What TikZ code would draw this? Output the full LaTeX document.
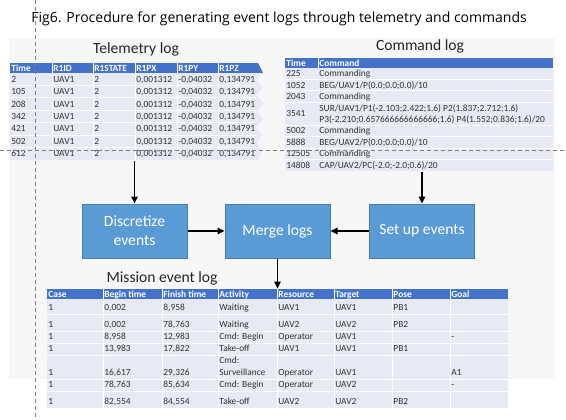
\documentclass[tikz,border=0pt]{standalone}
\usepackage{fontspec}
\setmainfont{Carlito}
\newfontfamily\capfont{Open Sans}
\usetikzlibrary{arrows.meta,positioning}
\definecolor{hdrblue}{RGB}{68,114,200}
\definecolor{rowblue}{RGB}{231,234,244}
\definecolor{boxfill}{RGB}{91,155,213}
\definecolor{boxedge}{RGB}{70,125,180}
\newcommand{\celltxt}{\fontsize{4.7}{5.8}\selectfont}
\tikzset{
panel/.style={fill=black!3},
hdrband/.style={fill=hdrblue},
rowband/.style={fill=rowblue},
sepline/.style={draw=white,line width=0.5pt},
cell/.style={anchor=base west,inner sep=0pt,font=\celltxt,text=black!80},
hcell/.style={cell,text=white,font=\celltxt\bfseries},
logtitle/.style={anchor=base,inner sep=0pt,font=\fontsize{7.8}{9}\selectfont,text=black!85},
procbox/.style={draw=boxedge,fill=boxfill,text=white,line width=0.5pt,minimum width=52.5pt,minimum height=27pt,align=center,font=\fontsize{7.8}{9.5}\selectfont},
flowarrow/.style={-{Triangle[length=3.5pt,width=3.2pt]},line width=0.8pt,black},
guide/.style={draw=black!50,line width=0.3pt,dash pattern=on 2pt off 1.5pt}
}
\newcommand{\misrow}[9]{%
\node[cell] (mis-#1-1) at (48,#2) {1};
\node[cell] (mis-#1-2) at (104,#2) {#3};
\node[cell] (mis-#1-3) at (163,#2) {#4};
\node[cell] (mis-#1-4) at (219,#2) {#5};
\node[cell] (mis-#1-5) at (278,#2) {#6};
\node[cell] (mis-#1-6) at (335,#2) {#7};
\node[cell] (mis-#1-7) at (393,#2) {#8};
\node[cell] (mis-#1-8) at (451,#2) {#9};
}
\begin{document}
\begin{tikzpicture}[x=0.5pt,y=-0.5pt]
\useasboundingbox (0,0) rectangle (566,419);
\fill[panel] (9,38) rectangle (555,379);
\node[anchor=base west,inner sep=0pt,font=\capfont\fontsize{7}{8}\selectfont] (figcap) at (31,22) {Fig6. Procedure for generating event logs through telemetry and commands};

\node[logtitle] (teltitle) at (136,53) {Telemetry log};
\fill[hdrband] (10,63) -- (258,63) -- (263,73) -- (10,73) -- cycle;
\fill[rowband] (10,73) -- (262,73) -- (257,80) -- (263,87) -- (256,95) -- (264,103) -- (257,111) -- (263,119) -- (256,127) -- (262,135) -- (257,143) -- (263,151) -- (258,160) -- (10,160) -- cycle;
\foreach \k in {1,...,6} \draw[sepline] (10,{73+12.43*\k}) -- (256,{73+12.43*\k});
\foreach \x in {52,93,135,177,218} \draw[sepline] (\x,63) -- (\x,160);
\foreach \x/\h [count=\c] in {11/Time,53/R1ID,94/R1STATE,136/R1PX,178/R1PY,219/R1PZ}
  \node[hcell] (tel-h\c) at (\x,71) {\h};
\foreach \t [count=\r] in {2,105,208,342,421,502,612}{
  \pgfmathsetmacro\yb{73+12.43*(\r-0.5)+3}
  \node[cell] (tel-\r-1) at (11,\yb) {\t};
  \node[cell] (tel-\r-2) at (53,\yb) {UAV1};
  \node[cell] (tel-\r-3) at (94,\yb) {2};
  \node[cell] (tel-\r-4) at (136,\yb) {0,001312};
  \node[cell] (tel-\r-5) at (178,\yb) {-0,04032};
  \node[cell] (tel-\r-6) at (219,\yb) {0,134791};
}
\coordinate (tel-out) at (134.5,161);

\node[logtitle] (cmdtitle) at (420,50) {Command log};
\fill[hdrband] (285,58) rectangle (553,68);
\fill[rowband] (285,68) rectangle (553,171);
\foreach \y in {79.4,90.9,102.3,125.2,136.6,148.1,159.5} \draw[sepline] (285,\y) -- (553,\y);
\draw[sepline] (318,58) -- (318,68);
\node[hcell] (cmd-h1) at (286,66) {Time};
\node[hcell] (cmd-h2) at (319,66) {Command};
\foreach \yb/\t/\c [count=\r] in {76.7/225/Commanding,88.2/1052/{BEG/UAV1/P(0.0;0.0;0.0)/10},99.6/2043/Commanding,133.9/5002/Commanding,145.4/5888/{BEG/UAV2/P(0.0;0.0;0.0)/10},156.8/12505/Commanding,168.3/14808/{CAP/UAV2/PC(-2.0;-2.0;0.6)/20}}{
  \node[cell] (cmd-\r-1) at (286,\yb) {\t};
  \node[cell] (cmd-\r-2) at (319,\yb) {\c};
}
\node[cell] (cmd-sur-1) at (286,116.7) {3541};
\node[cell] (cmd-sur-2) at (319,111) {SUR/UAV1/P1(-2.103;2.422;1.6) P2(1.837;2.712;1.6)};
\node[cell] (cmd-sur-3) at (319,122.5) {P3(-2.210;0.657666666666666;1.6) P4(1.552;0.836;1.6)/20};
\coordinate (cmd-out) at (422,172);

\node[procbox] (disc) at (134.5,231) {Discretize\\events};
\node[procbox] (merge) at (277.5,231) {Merge logs};
\node[procbox] (setup) at (422,231) {Set up events};
\draw[flowarrow] (tel-out) -- (disc.north);
\draw[flowarrow] (cmd-out) -- (setup.north);
\draw[flowarrow] (disc.east) -- (merge.west);
\draw[flowarrow] (setup.west) -- (merge.east);
\coordinate (mis-in) at (277.5,288.5);
\draw[flowarrow] (merge.south) -- (mis-in);

\node[logtitle] (mistitle) at (162,282) {Mission event log};
\fill[hdrband] (47,289) rectangle (508,299);
\fill[rowband] (47,299) rectangle (508,408);
\foreach \y in {314,331,343,355,379,391} \draw[sepline] (47,\y) -- (508,\y);
\foreach \x in {103,162,218,277,334,392,450} \draw[sepline] (\x,289) -- (\x,408);
\foreach \x/\h [count=\c] in {48/Case,104/Begin time,163/Finish time,219/Activity,278/Resource,335/Target,393/Pose,451/Goal}
  \node[hcell] (mis-h\c) at (\x,297) {\h};
\misrow{1}{310.5}{0,002}{8,958}{Waiting}{UAV1}{UAV1}{PB1}{}
\misrow{2}{327.5}{0,002}{78,763}{Waiting}{UAV2}{UAV2}{PB2}{}
\misrow{3}{339.5}{8,958}{12,983}{Cmd: Begin}{Operator}{UAV1}{}{-}
\misrow{4}{351.5}{13,983}{17,822}{Take-off}{UAV1}{UAV1}{PB1}{}
\misrow{5}{375.5}{16,617}{29,326}{Surveillance}{Operator}{UAV1}{}{A1}
\node[cell] (mis-5-4a) at (219,363.5) {Cmd:};
\misrow{6}{387.5}{78,763}{85,634}{Cmd: Begin}{Operator}{UAV2}{}{-}
\misrow{7}{404.5}{82,554}{84,554}{Take-off}{UAV2}{UAV2}{PB2}{}

\draw[guide] (35,0) -- (35,419);
\draw[guide] (0,150) -- (566,150);
\end{tikzpicture}
\end{document}
